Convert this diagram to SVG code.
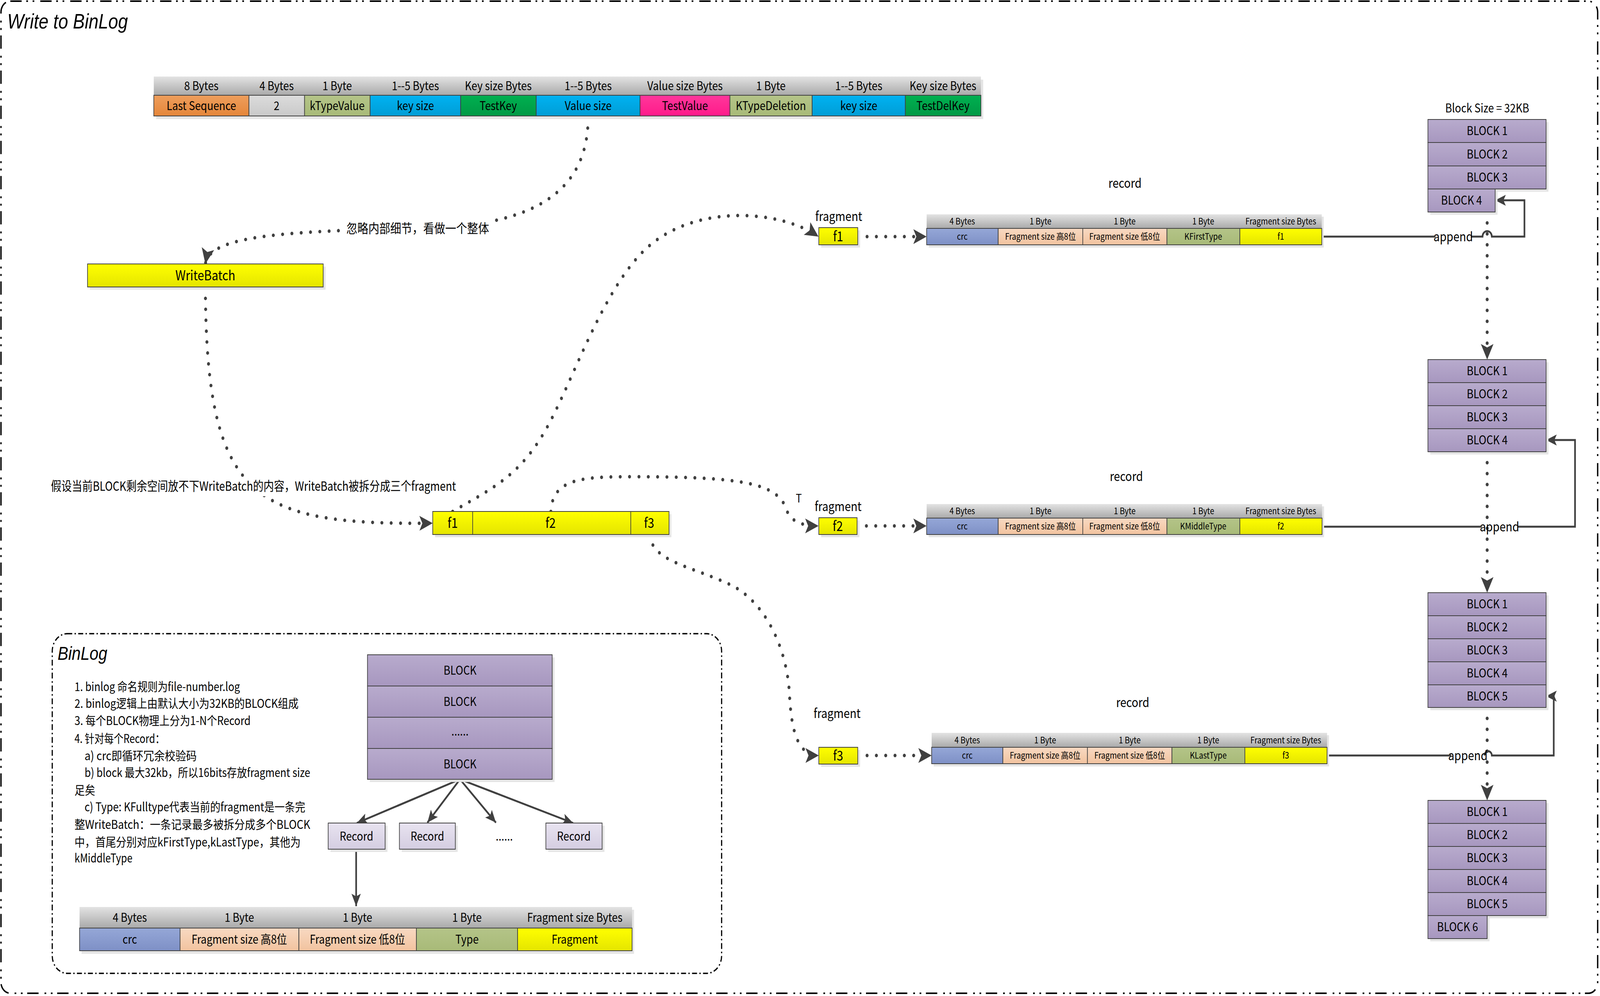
<svg xmlns="http://www.w3.org/2000/svg" width="4807" height="2551" viewBox="0 0 4807 2551" preserveAspectRatio="none" style="width:100%;height:100%;display:block">
<defs>
<linearGradient id="gHdr" x1="0" y1="0" x2="0" y2="1"><stop offset="0" stop-color="#e3e3e3"/><stop offset="1" stop-color="#a9a9a9"/></linearGradient>
<linearGradient id="gOr" x1="0" y1="0" x2="0" y2="1"><stop offset="0" stop-color="#ee9e5c"/><stop offset="1" stop-color="#e5863a"/></linearGradient>
<linearGradient id="gGr" x1="0" y1="0" x2="0" y2="1"><stop offset="0" stop-color="#dcdcdc"/><stop offset="1" stop-color="#c9c9c9"/></linearGradient>
<linearGradient id="gOl" x1="0" y1="0" x2="0" y2="1"><stop offset="0" stop-color="#b4c488"/><stop offset="1" stop-color="#a8ba78"/></linearGradient>
<linearGradient id="gBl" x1="0" y1="0" x2="0" y2="1"><stop offset="0" stop-color="#00b2f2"/><stop offset="1" stop-color="#009dd5"/></linearGradient>
<linearGradient id="gGn" x1="0" y1="0" x2="0" y2="1"><stop offset="0" stop-color="#00b050"/><stop offset="1" stop-color="#009945"/></linearGradient>
<linearGradient id="gPk" x1="0" y1="0" x2="0" y2="1"><stop offset="0" stop-color="#ff379b"/><stop offset="1" stop-color="#ff1a8a"/></linearGradient>
<linearGradient id="gPu" x1="0" y1="0" x2="0" y2="1"><stop offset="0" stop-color="#b8abcd"/><stop offset="1" stop-color="#a797bf"/></linearGradient>
<linearGradient id="gYe" x1="0" y1="0" x2="0" y2="1"><stop offset="0" stop-color="#ffff00"/><stop offset="1" stop-color="#e5e500"/></linearGradient>
<linearGradient id="gCrc" x1="0" y1="0" x2="0" y2="1"><stop offset="0" stop-color="#95a7d7"/><stop offset="1" stop-color="#7e90c6"/></linearGradient>
<linearGradient id="gPe" x1="0" y1="0" x2="0" y2="1"><stop offset="0" stop-color="#f8d9c2"/><stop offset="1" stop-color="#f2c39f"/></linearGradient>
<linearGradient id="gRec" x1="0" y1="0" x2="0" y2="1"><stop offset="0" stop-color="#e8e3f0"/><stop offset="1" stop-color="#d4cde1"/></linearGradient>
<marker id="ah" viewBox="0 0 40 40" refX="40" refY="20" markerWidth="40" markerHeight="40" markerUnits="userSpaceOnUse" orient="auto"><path d="M0,1 L40,20 L0,39 L9,20 z" fill="#404040"/></marker>
<marker id="as" viewBox="0 0 32 30" refX="32" refY="15" markerWidth="32" markerHeight="30" markerUnits="userSpaceOnUse" orient="auto"><path d="M0,1 L32,15 L0,29 L7,15 z" fill="#404040"/></marker>
</defs>
<style>
.t{font-family:"Noto Sans CJK SC","Noto Sans",sans-serif;fill:#000}
.c{text-anchor:middle}
.f31{font-size:31px}
.f23{font-size:23px}
.f33{font-size:33px}
.cell{stroke:#404040;stroke-width:2}
.sh{fill:#e5e5e5}
.dot{fill:none;stroke:#404040;stroke-width:9;stroke-linecap:round;stroke-dasharray:0 28}
.ln{fill:none;stroke:#404040;stroke-width:5}
.ttl{font-family:"Liberation Sans",Arial,sans-serif;font-style:italic;fill:#000}
</style>
<rect width="4807" height="2551" fill="#ffffff"/>

<!-- frames -->
<g id="frame">
<rect x="3" y="3" width="4797" height="2541" rx="28" fill="none" stroke="#000" stroke-width="4" stroke-dasharray="34 14 5 14 5 18"/>
<text class="ttl" x="22" y="73" font-size="53">Write to BinLog</text>
</g>

<!-- connectors -->
<g id="connectors">
<path class="dot" d="M1767,300 C1767,520 1550,580 1260,585 C800,592 630,610 617,676" marker-end="url(#ah)"/>
<path class="dot" d="M617,736 C620,1280 760,1345 1300,1340" marker-end="url(#ah)"/>
<path class="dot" d="M1360,1310 C1480,1250 1560,1220 1640,1100 C1720,980 1814,730 1950,630 C2100,520 2350,540 2459,606" marker-end="url(#ah)"/>
<path class="dot" d="M1655,1310 C1660,1225 1750,1221 1900,1221 C2250,1221 2340,1240 2365,1310 C2380,1340 2420,1347 2459,1347" marker-end="url(#ah)"/>
<path class="dot" d="M1952,1370 C1960,1440 2080,1450 2200,1500 C2300,1545 2365,1660 2372,1780 C2378,1880 2400,1935 2460,1935" marker-end="url(#ah)"/>
<path class="dot" d="M2577,606 H2784" marker-end="url(#ah)"/>
<path class="dot" d="M2575,1347 H2784" marker-end="url(#ah)"/>
<path class="dot" d="M2577,1935 H2799" marker-end="url(#ah)"/>
<path class="dot" d="M4468,543 V921" marker-end="url(#ah)"/>
<path class="dot" d="M4468,1157 V1518" marker-end="url(#ah)"/>
<path class="dot" d="M4468,1812 V2050" marker-end="url(#ah)"/>

<path class="ln" d="M3971,606 H4313"/>
<path class="ln" d="M4419,606 H4454 A14,14 0 0 1 4482,606 H4580 V513 H4492" marker-end="url(#as)"/>
<text class="t c f33" x="4366" y="618">append</text>

<path class="ln" d="M3972,1349 H4452"/>
<path class="ln" d="M4559,1349 H4732 V1127 H4645" marker-end="url(#as)"/>
<text class="t c f33" x="4505" y="1361">append</text>

<path class="ln" d="M3987,1935 H4360"/>
<path class="ln" d="M4460,1935 A11,11 0 0 1 4482,1935 H4668 V1783 H4645" marker-end="url(#as)"/>
<text class="t c f33" x="4410" y="1947">append</text>

<path class="ln" d="M1382,1996 L1072,2108" marker-end="url(#as)"/>
<path class="ln" d="M1382,1996 L1284,2107" marker-end="url(#as)"/>
<path class="ln" d="M1382,1996 L1490,2107" marker-end="url(#as)"/>
<path class="ln" d="M1382,1996 L1722,2108" marker-end="url(#as)"/>
<path class="ln" d="M1070,2175 V2321" marker-end="url(#as)"/>

<rect x="1036" y="561" width="438" height="48" fill="#fff"/>
<text class="t c f33" x="1255" y="597">忽略内部细节，看做一个整体</text>
<rect x="148" y="1221" width="1232" height="50" fill="#fff"/>
<text class="t f33" x="153" y="1257" textLength="1217" lengthAdjust="spacingAndGlyphs">假设当前BLOCK剩余空间放不下WriteBatch的内容，WriteBatch被拆分成三个fragment</text>
<text class="t c" x="2400" y="1287" font-size="30">T</text>
</g>

<!-- top entry table -->
<g id="entry">
<rect class="sh" x="469" y="204" width="2485" height="101"/>
<rect x="462" y="196" width="2485" height="48" fill="url(#gHdr)"/>
<rect class="cell" x="462" y="244" width="286" height="53" fill="url(#gOr)"/>
<rect class="cell" x="748" y="244" width="167" height="53" fill="url(#gGr)"/>
<rect class="cell" x="915" y="244" width="197" height="53" fill="url(#gOl)"/>
<rect class="cell" x="1112" y="244" width="272" height="53" fill="url(#gBl)"/>
<rect class="cell" x="1384" y="244" width="227" height="53" fill="url(#gGn)"/>
<rect class="cell" x="1611" y="244" width="312" height="53" fill="url(#gBl)"/>
<rect class="cell" x="1923" y="244" width="270" height="53" fill="url(#gPk)"/>
<rect class="cell" x="2193" y="244" width="247" height="53" fill="url(#gOl)"/>
<rect class="cell" x="2440" y="244" width="280" height="53" fill="url(#gBl)"/>
<rect class="cell" x="2720" y="244" width="227" height="53" fill="url(#gGn)"/>
<g class="t c f31">
<text x="605" y="231">8 Bytes</text>
<text x="831" y="231">4 Bytes</text>
<text x="1013" y="231">1 Byte</text>
<text x="1248" y="231">1--5 Bytes</text>
<text x="1497" y="231">Key size Bytes</text>
<text x="1767" y="231">1--5 Bytes</text>
<text x="2058" y="231">Value  size Bytes</text>
<text x="2316" y="231">1 Byte</text>
<text x="2580" y="231">1--5 Bytes</text>
<text x="2833" y="231">Key size Bytes</text>
<text x="605" y="282">Last Sequence</text>
<text x="831" y="282">2</text>
<text x="1013" y="282">kTypeValue</text>
<text x="1248" y="282">key size</text>
<text x="1497" y="282">TestKey</text>
<text x="1767" y="282">Value size</text>
<text x="2058" y="282">TestValue</text>
<text x="2316" y="282">KTypeDeletion</text>
<text x="2580" y="282">key size</text>
<text x="2833" y="282">TestDelKey</text>
</g>
</g>

<!-- WriteBatch -->
<g id="writebatch">
<rect class="sh" x="270" y="683" width="708" height="59"/>
<rect class="cell" x="263" y="676" width="708" height="59" fill="url(#gYe)"/>
<text class="t c" x="617" y="718" font-size="35">WriteBatch</text>
</g>

<!-- fragment bar -->
<g id="fragments">
<rect class="sh" x="1307" y="1317" width="710" height="59"/>
<rect class="cell" x="1300" y="1310" width="710" height="59" fill="url(#gYe)"/>
<line class="cell" x1="1420" y1="1310" x2="1420" y2="1369"/>
<line class="cell" x1="1895" y1="1310" x2="1895" y2="1369"/>
<g class="t c" font-size="35">
<text x="1360" y="1352">f1</text>
<text x="1654" y="1352">f2</text>
<text x="1950" y="1352">f3</text>
</g>
</g>

<!-- fragment boxes -->
<g id="frag1">
<text class="t c f33" x="2520" y="566">fragment</text>
<rect class="sh" x="2467" y="590" width="117" height="44"/>
<rect class="cell" x="2460" y="583" width="117" height="44" fill="url(#gYe)"/>
<text class="t c" x="2518" y="618" font-size="35">f1</text>
</g>
<g id="frag2">
<text class="t c f33" x="2518" y="1309">fragment</text>
<rect class="sh" x="2467" y="1333" width="115" height="43"/>
<rect class="cell" x="2460" y="1326" width="115" height="43" fill="url(#gYe)"/>
<text class="t c" x="2517" y="1360" font-size="35">f2</text>
</g>
<g id="frag3">
<text class="t c f33" x="2515" y="1839">fragment</text>
<rect class="sh" x="2467" y="1921" width="117" height="43"/>
<rect class="cell" x="2460" y="1914" width="117" height="43" fill="url(#gYe)"/>
<text class="t c" x="2518" y="1948" font-size="35">f3</text>
</g>

<!-- record tables -->
<g id="record1">
<text class="t c f33" x="3380" y="481">record</text>
<rect class="sh" x="2790" y="555" width="1187" height="79"/>
<rect x="2784" y="549" width="1187" height="36" fill="url(#gHdr)"/>
<rect class="cell" x="2784" y="585" width="215" height="42" fill="url(#gCrc)"/>
<rect class="cell" x="2999" y="585" width="254" height="42" fill="url(#gPe)"/>
<rect class="cell" x="3253" y="585" width="253" height="42" fill="url(#gPe)"/>
<rect class="cell" x="3506" y="585" width="219" height="42" fill="url(#gOl)"/>
<rect class="cell" x="3725" y="585" width="246" height="42" fill="url(#gYe)"/>
<g class="t c f23">
<text x="2891" y="575">4 Bytes</text>
<text x="3126" y="575">1 Byte</text>
<text x="3379" y="575">1 Byte</text>
<text x="3615" y="575">1 Byte</text>
<text x="3848" y="575">Fragment size Bytes</text>
<text x="2891" y="614">crc</text>
<text x="3126" y="614">Fragment size 高8位</text>
<text x="3379" y="614">Fragment size 低8位</text>
<text x="3615" y="614">KFirstType</text>
<text x="3848" y="614">f1</text>
</g>
</g>
<g id="record2">
<text class="t c f33" x="3384" y="1232">record</text>
<rect class="sh" x="2790" y="1297" width="1188" height="79"/>
<rect x="2784" y="1291" width="1188" height="36" fill="url(#gHdr)"/>
<rect class="cell" x="2784" y="1327" width="215" height="42" fill="url(#gCrc)"/>
<rect class="cell" x="2999" y="1327" width="254" height="42" fill="url(#gPe)"/>
<rect class="cell" x="3253" y="1327" width="253" height="42" fill="url(#gPe)"/>
<rect class="cell" x="3506" y="1327" width="219" height="42" fill="url(#gOl)"/>
<rect class="cell" x="3725" y="1327" width="247" height="42" fill="url(#gYe)"/>
<g class="t c f23">
<text x="2891" y="1317">4 Bytes</text>
<text x="3126" y="1317">1 Byte</text>
<text x="3379" y="1317">1 Byte</text>
<text x="3615" y="1317">1 Byte</text>
<text x="3848" y="1317">Fragment size Bytes</text>
<text x="2891" y="1356">crc</text>
<text x="3126" y="1356">Fragment size 高8位</text>
<text x="3379" y="1356">Fragment size 低8位</text>
<text x="3615" y="1356">KMiddleType</text>
<text x="3848" y="1356">f2</text>
</g>
</g>
<g id="record3">
<text class="t c f33" x="3403" y="1811">record</text>
<rect class="sh" x="2805" y="1883" width="1188" height="80"/>
<rect x="2799" y="1877" width="1188" height="37" fill="url(#gHdr)"/>
<rect class="cell" x="2799" y="1914" width="214" height="42" fill="url(#gCrc)"/>
<rect class="cell" x="3013" y="1914" width="254" height="42" fill="url(#gPe)"/>
<rect class="cell" x="3267" y="1914" width="254" height="42" fill="url(#gPe)"/>
<rect class="cell" x="3521" y="1914" width="219" height="42" fill="url(#gOl)"/>
<rect class="cell" x="3740" y="1914" width="247" height="42" fill="url(#gYe)"/>
<g class="t c f23">
<text x="2906" y="1904">4 Bytes</text>
<text x="3140" y="1904">1 Byte</text>
<text x="3394" y="1904">1 Byte</text>
<text x="3630" y="1904">1 Byte</text>
<text x="3863" y="1904">Fragment size Bytes</text>
<text x="2906" y="1943">crc</text>
<text x="3140" y="1943">Fragment size 高8位</text>
<text x="3394" y="1943">Fragment size 低8位</text>
<text x="3630" y="1943">KLastType</text>
<text x="3863" y="1943">f3</text>
</g>
</g>

<!-- block stacks -->
<g id="stack1">
<text class="t c f31" x="4468" y="288">Block Size = 32KB</text>
<rect class="sh" x="4297" y="313" width="355" height="178"/>
<rect class="sh" x="4297" y="491" width="202" height="59"/>
<rect class="cell" x="4290" y="306" width="355" height="59" fill="url(#gPu)"/>
<rect class="cell" x="4290" y="365" width="355" height="60" fill="url(#gPu)"/>
<rect class="cell" x="4290" y="425" width="355" height="59" fill="url(#gPu)"/>
<rect class="cell" x="4290" y="484" width="202" height="59" fill="url(#gPu)"/>
<g class="t c f31">
<text x="4468" y="346">BLOCK 1</text>
<text x="4468" y="406">BLOCK 2</text>
<text x="4468" y="465">BLOCK 3</text>
<text x="4391" y="524">BLOCK 4</text>
</g>
</g>
<g id="stack2">
<rect class="sh" x="4297" y="928" width="355" height="236"/>
<rect class="cell" x="4290" y="921" width="355" height="59" fill="url(#gPu)"/>
<rect class="cell" x="4290" y="980" width="355" height="59" fill="url(#gPu)"/>
<rect class="cell" x="4290" y="1039" width="355" height="59" fill="url(#gPu)"/>
<rect class="cell" x="4290" y="1098" width="355" height="59" fill="url(#gPu)"/>
<g class="t c f31">
<text x="4468" y="961">BLOCK 1</text>
<text x="4468" y="1020">BLOCK 2</text>
<text x="4468" y="1079">BLOCK 3</text>
<text x="4468" y="1138">BLOCK 4</text>
</g>
</g>
<g id="stack3">
<rect class="sh" x="4297" y="1525" width="355" height="294"/>
<rect class="cell" x="4290" y="1518" width="355" height="59" fill="url(#gPu)"/>
<rect class="cell" x="4290" y="1577" width="355" height="59" fill="url(#gPu)"/>
<rect class="cell" x="4290" y="1636" width="355" height="59" fill="url(#gPu)"/>
<rect class="cell" x="4290" y="1695" width="355" height="59" fill="url(#gPu)"/>
<rect class="cell" x="4290" y="1754" width="355" height="58" fill="url(#gPu)"/>
<g class="t c f31">
<text x="4468" y="1558">BLOCK 1</text>
<text x="4468" y="1617">BLOCK 2</text>
<text x="4468" y="1676">BLOCK 3</text>
<text x="4468" y="1735">BLOCK 4</text>
<text x="4468" y="1794">BLOCK 5</text>
</g>
</g>
<g id="stack4">
<rect class="sh" x="4297" y="2057" width="355" height="295"/>
<rect class="sh" x="4297" y="2352" width="178" height="59"/>
<rect class="cell" x="4290" y="2050" width="355" height="59" fill="url(#gPu)"/>
<rect class="cell" x="4290" y="2109" width="355" height="59" fill="url(#gPu)"/>
<rect class="cell" x="4290" y="2168" width="355" height="59" fill="url(#gPu)"/>
<rect class="cell" x="4290" y="2227" width="355" height="59" fill="url(#gPu)"/>
<rect class="cell" x="4290" y="2286" width="355" height="59" fill="url(#gPu)"/>
<rect class="cell" x="4290" y="2345" width="178" height="59" fill="url(#gPu)"/>
<g class="t c f31">
<text x="4468" y="2090">BLOCK 1</text>
<text x="4468" y="2149">BLOCK 2</text>
<text x="4468" y="2208">BLOCK 3</text>
<text x="4468" y="2267">BLOCK 4</text>
<text x="4468" y="2326">BLOCK 5</text>
<text x="4379" y="2385">BLOCK 6</text>
</g>
</g>

<!-- BinLog explanation box -->
<g id="binlog">
<rect x="157" y="1623" width="2011" height="870" rx="45" fill="none" stroke="#000" stroke-width="3.5" stroke-dasharray="15 7 4 7"/>
<text class="ttl" x="173" y="1690" font-size="48">BinLog</text>
<g class="t f31">
<text x="224" y="1770" textLength="497" lengthAdjust="spacingAndGlyphs">1. binlog 命名规则为file-number.log</text>
<text x="224" y="1813" textLength="673" lengthAdjust="spacingAndGlyphs">2. binlog逻辑上由默认大小为32KB的BLOCK组成</text>
<text x="224" y="1857" textLength="529" lengthAdjust="spacingAndGlyphs">3. 每个BLOCK物理上分为1-N个Record</text>
<text x="224" y="1903" textLength="271" lengthAdjust="spacingAndGlyphs">4. 针对每个Record：</text>
<text x="254" y="1947" textLength="337" lengthAdjust="spacingAndGlyphs">a) crc即循环冗余校验码</text>
<text x="254" y="1990" textLength="678" lengthAdjust="spacingAndGlyphs">b) block 最大32kb，所以16bits存放fragment size</text>
<text x="224" y="2035">足矣</text>
<text x="254" y="2078" textLength="663" lengthAdjust="spacingAndGlyphs">c) Type: KFulltype代表当前的fragment是一条完</text>
<text x="224" y="2123" textLength="708" lengthAdjust="spacingAndGlyphs">整WriteBatch：一条记录最多被拆分成多个BLOCK</text>
<text x="224" y="2168" textLength="679" lengthAdjust="spacingAndGlyphs">中，首尾分别对应kFirstType,kLastType，其他为</text>
<text x="224" y="2209" textLength="174" lengthAdjust="spacingAndGlyphs">kMiddleType</text>
</g>
</g>

<g id="blockstack">
<rect class="sh" x="1111" y="1684" width="555" height="319"/>
<rect class="cell" x="1104" y="1677" width="555" height="80" fill="url(#gPu)"/>
<rect class="cell" x="1104" y="1757" width="555" height="80" fill="url(#gPu)"/>
<rect class="cell" x="1104" y="1837" width="555" height="80" fill="url(#gPu)"/>
<rect class="cell" x="1104" y="1917" width="555" height="79" fill="url(#gPu)"/>
<g class="t c f31">
<text x="1382" y="1728">BLOCK</text>
<text x="1382" y="1808">BLOCK</text>
<text x="1382" y="1884">......</text>
<text x="1382" y="1968">BLOCK</text>
</g>
</g>
<g id="record-a">
<rect class="sh" x="993" y="2115" width="171" height="67"/>
<rect class="cell" x="986" y="2108" width="171" height="67" fill="url(#gRec)"/>
<text class="t c f31" x="1071" y="2153">Record</text>
</g>
<g id="record-b">
<rect class="sh" x="1207" y="2115" width="168" height="67"/>
<rect class="cell" x="1200" y="2108" width="168" height="67" fill="url(#gRec)"/>
<text class="t c f31" x="1284" y="2153">Record</text>
</g>
<text class="t c f31" x="1515" y="2153">......</text>
<g id="record-c">
<rect class="sh" x="1647" y="2115" width="169" height="67"/>
<rect class="cell" x="1640" y="2108" width="169" height="67" fill="url(#gRec)"/>
<text class="t c f31" x="1724" y="2153">Record</text>
</g>

<g id="recordformat">
<rect class="sh" x="245" y="2330" width="1660" height="113"/>
<rect x="239" y="2323" width="1660" height="54" fill="url(#gHdr)"/>
<rect class="cell" x="239" y="2377" width="302" height="58" fill="url(#gCrc)"/>
<rect class="cell" x="541" y="2377" width="357" height="58" fill="url(#gPe)"/>
<rect class="cell" x="898" y="2377" width="353" height="58" fill="url(#gPe)"/>
<rect class="cell" x="1251" y="2377" width="304" height="58" fill="url(#gOl)"/>
<rect class="cell" x="1555" y="2377" width="344" height="58" fill="url(#gYe)"/>
<g class="t c f31">
<text x="390" y="2361">4 Bytes</text>
<text x="719" y="2361">1 Byte</text>
<text x="1074" y="2361">1 Byte</text>
<text x="1403" y="2361">1 Byte</text>
<text x="1727" y="2361">Fragment size Bytes</text>
<text x="390" y="2417">crc</text>
<text x="719" y="2417">Fragment size 高8位</text>
<text x="1074" y="2417">Fragment size 低8位</text>
<text x="1403" y="2417">Type</text>
<text x="1727" y="2417">Fragment</text>
</g>
</g>
</svg>
